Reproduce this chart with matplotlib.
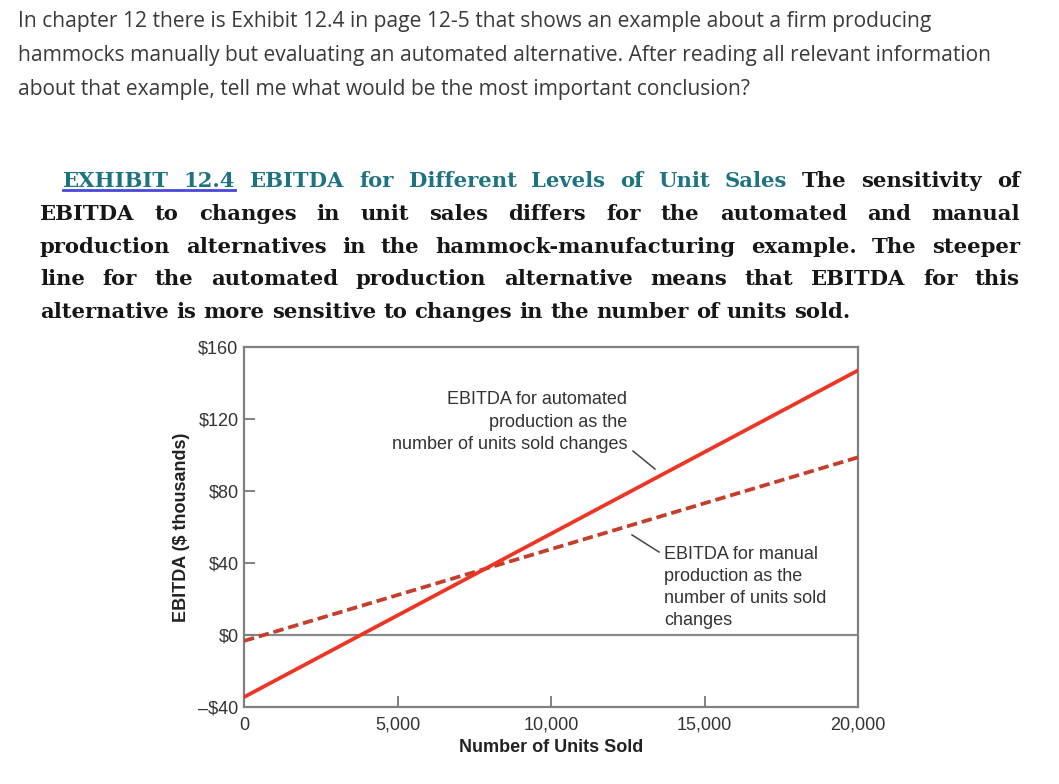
import matplotlib
matplotlib.use("Agg")
import matplotlib.pyplot as plt
from matplotlib.lines import Line2D

# ---------------- data ----------------
units = [0, 20000]
ebitda_automated = [-34.5, 147.0]
ebitda_manual = [-3.3, 98.7]
x_ticks = [0, 5000, 10000, 15000, 20000]
x_tick_labels = ["0", "5,000", "10,000", "15,000", "20,000"]
y_ticks = [-40, 0, 40, 80, 120, 160]
y_tick_labels = ["\u2013$40", "$0", "$40", "$80", "$120", "$160"]

question_lines = [
    "In chapter 12 there is Exhibit 12.4 in page 12-5 that shows an example about a firm producing",
    "hammocks manually but evaluating an automated alternative. After reading all relevant information",
    "about that example, tell me what would be the most important conclusion?",
]
caption_lines = [
    [("EXHIBIT", "teal_u"), ("12.4", "teal_u"), ("EBITDA", "teal"), ("for", "teal"), ("Different", "teal"),
     ("Levels", "teal"), ("of", "teal"), ("Unit", "teal"), ("Sales", "teal"), ("The", "k"),
     ("sensitivity", "k"), ("of", "k")],
    "EBITDA to changes in unit sales differs for the automated and manual",
    "production alternatives in the hammock-manufacturing example. The steeper",
    "line for the automated production alternative means that EBITDA for this",
    "alternative is more sensitive to changes in the number of units sold.",
]

W, H = 1059, 784
fig = plt.figure(figsize=(W / 100, H / 100), dpi=100)
fig.patch.set_facecolor("white")
renderer = fig.canvas.get_renderer()


def fx(px):
    return px / W


def fy(py):
    return 1 - py / H


def text_width(s, **kw):
    t = fig.text(0, 0, s, **kw)
    w = t.get_window_extent(renderer).width
    t.remove()
    return w


# ---------------- question text ----------------
q_font = dict(family="Open Sans", color="#3a3a3a")
w0 = text_width(question_lines[0], fontsize=12, **q_font)
q_size = 12 * 912 / w0
for i, line in enumerate(question_lines):
    fig.text(fx(18), fy(27 + 34 * i), line, fontsize=q_size, va="baseline", ha="left", **q_font)

# ---------------- caption (justified) ----------------
c_font = dict(family="DejaVu Serif", fontweight="bold")
wl = text_width(caption_lines[-1], fontsize=14, **c_font)
c_size = 14 * 810 / wl
colors = {"teal": "#1d7380", "teal_u": "#1d7380", "k": "#161616"}
space_nat = text_width("a a", fontsize=c_size, **c_font) - text_width("aa", fontsize=c_size, **c_font)

for i, line in enumerate(caption_lines):
    if isinstance(line, str):
        words = [(w_, "k") for w_ in line.split()]
    else:
        words = line
    x0 = 63 if i == 0 else 40
    x1 = 1020
    base = 187 + 32.8 * i
    widths = [text_width(w_, fontsize=c_size, **c_font) for w_, _ in words]
    if i == len(caption_lines) - 1:
        gap = space_nat
    else:
        gap = (x1 - x0 - sum(widths)) / (len(words) - 1)
    x = x0
    ul_start, ul_end = None, None
    for (w_, c), wd in zip(words, widths):
        fig.text(fx(x), fy(base), w_, fontsize=c_size, color=colors[c], va="baseline", ha="left", **c_font)
        if c == "teal_u":
            if ul_start is None:
                ul_start = x
            ul_end = x + wd
        x += wd + gap
    if ul_start is not None:
        fig.add_artist(Line2D([fx(ul_start), fx(ul_end)], [fy(base + 2.5), fy(base + 2.5)],
                              color="#4848dc", lw=2.0, transform=fig.transFigure))

# ---------------- chart ----------------
ax = fig.add_axes([fx(244), fy(707), (858 - 244) / W, (707 - 347) / H])
ax.set_xlim(0, 20000)
ax.set_ylim(-40, 160)

ax.axhline(0, color="#8a8a8a", lw=1.6, zorder=1)
ax.plot(units, ebitda_manual, color="#c53d2b", lw=2.7, dashes=(2.8, 1.3), zorder=3)
ax.plot(units, ebitda_automated, color="#ee3424", lw=2.7, zorder=4)

for s in ax.spines.values():
    s.set_color("#808080")
    s.set_linewidth(1.6)

lab_font = dict(family="Liberation Sans")
ax.set_xticks(x_ticks)
ax.set_xticklabels(x_tick_labels, fontsize=13, color="#333333", **lab_font)
ax.set_yticks(y_ticks)
ax.set_yticklabels(y_tick_labels, fontsize=13, color="#333333", **lab_font)
ax.tick_params(axis="both", direction="in", length=8, width=1.4, color="#808080")
ax.tick_params(axis="x", pad=7)
ax.tick_params(axis="y", pad=4)

ax.set_xlabel("Number of Units Sold", fontsize=13, fontweight="bold", color="#222222",
              labelpad=4, **lab_font)
ax.set_ylabel("EBITDA ($ thousands)", fontsize=13, fontweight="bold", color="#222222",
              labelpad=6, **lab_font)

ax.text(12476, 135.3, "EBITDA for automated\nproduction as the\nnumber of units sold changes",
        ha="right", va="top", multialignment="right", fontsize=13, color="#333333",
        linespacing=1.4, **lab_font)
ax.text(13681, 49.6, "EBITDA for manual\nproduction as the\nnumber of units sold\nchanges",
        ha="left", va="top", fontsize=13, color="#333333", linespacing=1.4, **lab_font)
ax.plot([12671, 13388], [102.2, 92.2], color="#444444", lw=1.1, zorder=5)
ax.plot([12638, 13518], [55.6, 46.1], color="#444444", lw=1.1, zorder=5)

fig.savefig("out.png", dpi=100)
